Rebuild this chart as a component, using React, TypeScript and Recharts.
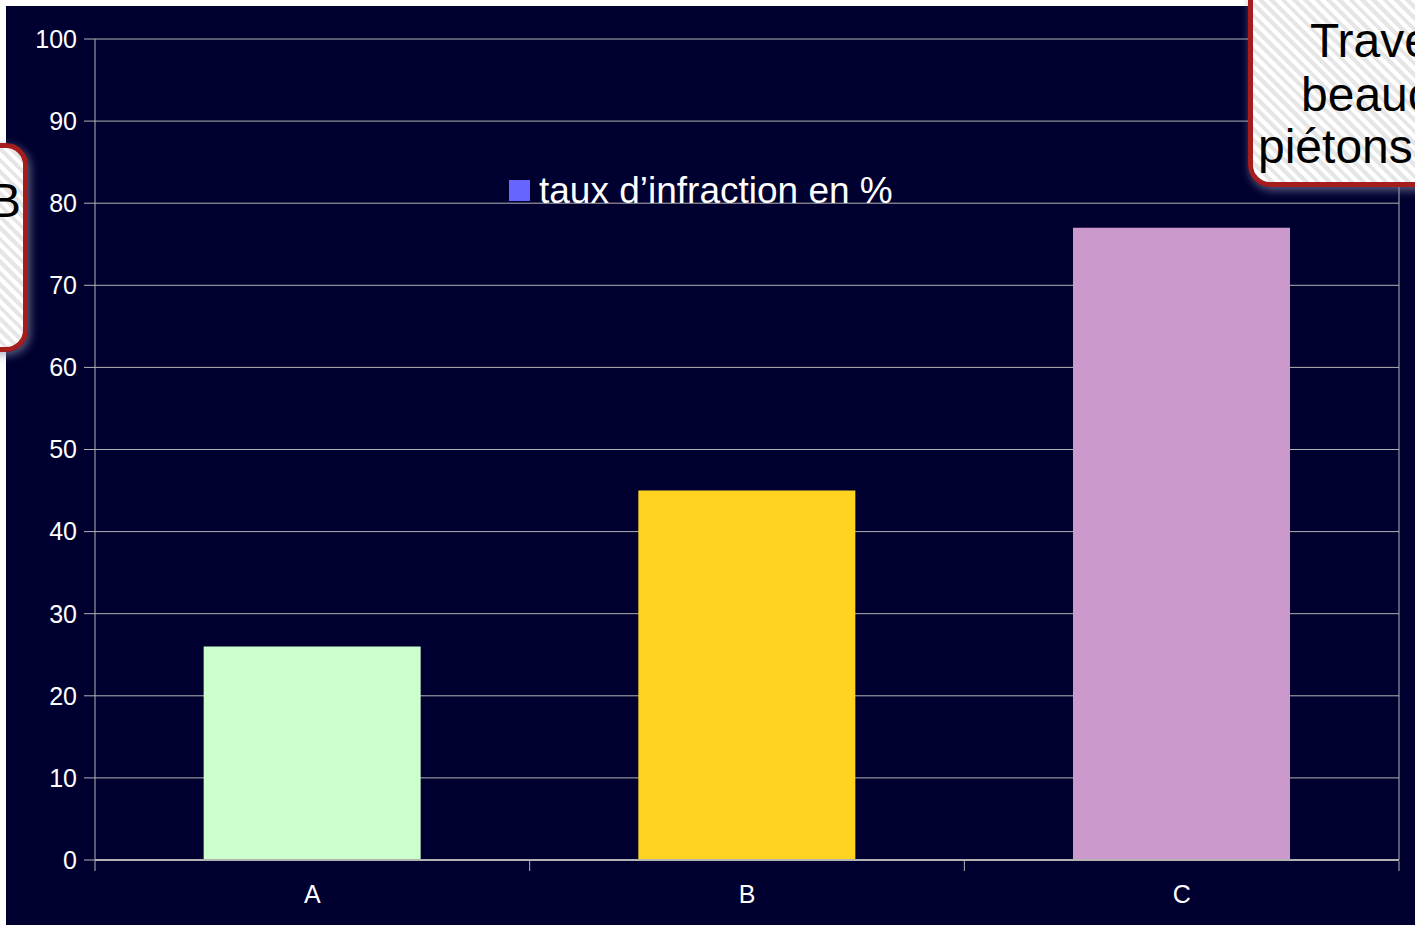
import {
  Bar,
  BarChart,
  CartesianGrid,
  Cell,
  Legend,
  ReferenceLine,
  XAxis,
  YAxis,
} from "recharts";

const categories = ["A", "B", "C"];
const rates = [26, 45, 77];
const barColors = ["#ccffcc", "#ffd320", "#cc99cc"];
const yTicks = [0, 10, 20, 30, 40, 50, 60, 70, 80, 90, 100];
const edgeTicks = [0, 1, 2, 3];
const seriesName = "taux d’infraction en %";

const data = categories.map((name, i) => ({ name, taux: rates[i] }));

// category slot centre on a 0..3 linear axis, used only for the boundary ticks
const slotCenter = (d: { name: string }) => categories.indexOf(d.name) + 0.5;

const FONT = '"Liberation Sans", Arial, sans-serif';
const GRID = "#b3b3b3";

const stripes =
  "repeating-linear-gradient(45deg, #ffffff 0px, #ffffff 4px, #e6e6e6 4px, #e6e6e6 8px)";

const calloutBox = {
  position: "absolute" as const,
  background: stripes,
  border: "5px solid #a51d1d",
  borderRadius: 22,
  boxShadow: "2px 3px 10px rgba(140,140,170,0.7)",
  color: "#000",
  fontFamily: FONT,
  fontSize: 48,
  lineHeight: "53px",
  whiteSpace: "nowrap" as const,
  overflow: "hidden",
};

const LegendContent = () => (
  <div
    style={{
      fontFamily: FONT,
      fontSize: 37,
      color: "#ffffff",
      whiteSpace: "nowrap",
    }}
  >
    <span
      style={{
        display: "inline-block",
        width: 21,
        height: 21,
        background: "#6666ff",
        marginRight: 9,
        verticalAlign: "baseline",
        position: "relative",
        top: -2,
      }}
    />
    {seriesName}
  </div>
);

const NoLabel = () => <g />;

export default function App() {
  return (
    <div
      style={{
        position: "fixed",
        left: 0,
        top: 0,
        width: 1415,
        height: 925,
        background: "#ffffff",
        overflow: "hidden",
      }}
    >
      <div
        style={{
          position: "absolute",
          left: 6,
          top: 6,
          width: 1409,
          height: 919,
          background: "#000030",
        }}
      >
        <BarChart
          width={1409}
          height={919}
          data={data}
          margin={{ top: 33, right: 16, left: 0, bottom: 0 }}
          barCategoryGap="25%"
        >
          <CartesianGrid
            xAxisId="cat"
            horizontal
            vertical={false}
            stroke={GRID}
            strokeWidth={1}
          />
          <XAxis
            xAxisId="edges"
            type="number"
            dataKey={slotCenter}
            domain={[0, 3]}
            ticks={edgeTicks}
            allowDataOverflow
            height={64}
            axisLine={false}
            tick={<NoLabel />}
            tickLine={{ stroke: GRID }}
            tickSize={10}
          />
          <XAxis
            xAxisId="cat"
            dataKey="name"
            height={1}
            axisLine={{ stroke: GRID, strokeWidth: 2 }}
            tickLine={false}
            tickSize={0}
            tickMargin={25}
            tick={{ fill: "#ffffff", fontSize: 25, fontFamily: FONT }}
          />
          <YAxis
            width={89}
            domain={[0, 100]}
            ticks={yTicks}
            axisLine={{ stroke: GRID }}
            tickLine={{ stroke: GRID }}
            tickSize={11}
            tickMargin={7}
            tick={{ fill: "#ffffff", fontSize: 25, fontFamily: FONT }}
          />
          <ReferenceLine
            xAxisId="edges"
            x={3}
            stroke={GRID}
            ifOverflow="visible"
          />
          <Legend
            layout="horizontal"
            verticalAlign="middle"
            content={<LegendContent />}
            wrapperStyle={{ top: 164, left: 503, width: "auto" }}
          />
          <Bar
            xAxisId="cat"
            dataKey="taux"
            name={seriesName}
            fill="#6666ff"
            isAnimationActive={false}
          >
            {data.map((d, i) => (
              <Cell key={d.name} fill={barColors[i]} />
            ))}
          </Bar>
        </BarChart>
      </div>

      <div
        style={{
          ...calloutBox,
          left: -30,
          top: 143,
          width: 48,
          height: 199,
        }}
      >
        <div style={{ position: "absolute", right: 2, top: 26 }}>B</div>
      </div>

      <div
        style={{
          ...calloutBox,
          left: 1248,
          top: -20,
          width: 260,
          height: 197,
        }}
      >
        <div style={{ position: "absolute", left: 57, top: 29 }}>Traverser</div>
        <div style={{ position: "absolute", left: 48, top: 83 }}>
          beaucoup de
        </div>
        <div style={{ position: "absolute", left: 5, top: 135 }}>
          piétons
        </div>
      </div>
    </div>
  );
}
